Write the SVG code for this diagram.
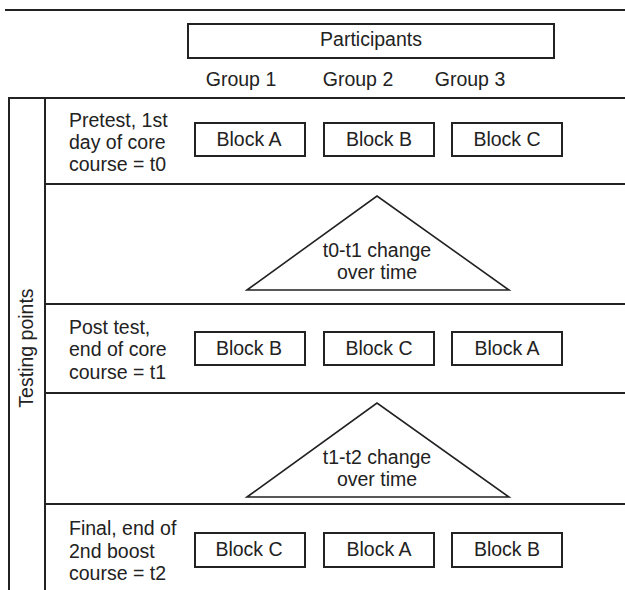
<svg xmlns="http://www.w3.org/2000/svg" width="625" height="590" viewBox="0 0 625 590">
  <style>
    .ln { stroke: #222; stroke-width: 2; fill: none; }
    .box { stroke: #222; stroke-width: 2; fill: #fff; }
    .tri { stroke: #222; stroke-width: 1.6; fill: #fff; stroke-linejoin: miter; }
    text { font-family: "Liberation Sans", Arial, sans-serif; font-size: 19.5px; fill: #222; }
    .c { text-anchor: middle; }
  </style>
  <rect width="625" height="590" fill="#fff"/>

  <!-- table frame -->
  <g id="frame">
    <line class="ln" x1="5" y1="10" x2="625" y2="10"/>
    <line class="ln" x1="8" y1="98" x2="625" y2="98"/>
    <line class="ln" x1="9" y1="98" x2="9" y2="590"/>
    <line class="ln" x1="45" y1="98" x2="45" y2="590"/>
    <line class="ln" x1="45" y1="184" x2="625" y2="184"/>
    <line class="ln" x1="45" y1="304" x2="625" y2="304"/>
    <line class="ln" x1="45" y1="393" x2="625" y2="393"/>
    <line class="ln" x1="45" y1="504" x2="625" y2="504"/>
    <text class="c" transform="translate(33,348) rotate(-90)">Testing points</text>
  </g>

  <!-- header -->
  <g id="participants">
    <rect class="box" x="188" y="24" width="366" height="34"/>
    <text class="c" x="371" y="46">Participants</text>
  </g>
  <g id="groups">
    <text class="c" x="241" y="86">Group 1</text>
    <text class="c" x="358" y="86">Group 2</text>
    <text class="c" x="470" y="86">Group 3</text>
  </g>

  <!-- testing point t0 -->
  <g id="t0">
    <text x="69" y="127">Pretest, 1st</text>
    <text x="69" y="149">day of core</text>
    <text x="69" y="171">course = t0</text>
    <rect class="box" x="195" y="123" width="110" height="33"/>
    <text class="c" x="249" y="146">Block A</text>
    <rect class="box" x="324" y="123" width="110" height="33"/>
    <text class="c" x="379" y="146">Block B</text>
    <rect class="box" x="452" y="123" width="110" height="33"/>
    <text class="c" x="507" y="146">Block C</text>
  </g>

  <!-- change t0-t1 -->
  <g id="change1">
    <polygon class="tri" points="247,290 377,196 509,290"/>
    <text class="c" x="377" y="257">t0-t1 change</text>
    <text class="c" x="377" y="279">over time</text>
  </g>

  <!-- testing point t1 -->
  <g id="t1">
    <text x="69" y="334">Post test,</text>
    <text x="69" y="356">end of core</text>
    <text x="69" y="379">course = t1</text>
    <rect class="box" x="195" y="332" width="110" height="33"/>
    <text class="c" x="249" y="355">Block B</text>
    <rect class="box" x="324" y="332" width="110" height="33"/>
    <text class="c" x="379" y="355">Block C</text>
    <rect class="box" x="452" y="332" width="110" height="33"/>
    <text class="c" x="507" y="355">Block A</text>
  </g>

  <!-- change t1-t2 -->
  <g id="change2">
    <polygon class="tri" points="247,497 377,403 509,497"/>
    <text class="c" x="377" y="464">t1-t2 change</text>
    <text class="c" x="377" y="486">over time</text>
  </g>

  <!-- testing point t2 -->
  <g id="t2">
    <text x="69" y="535">Final, end of</text>
    <text x="69" y="558">2nd boost</text>
    <text x="69" y="580">course = t2</text>
    <rect class="box" x="195" y="533" width="110" height="34"/>
    <text class="c" x="249" y="556">Block C</text>
    <rect class="box" x="324" y="533" width="110" height="34"/>
    <text class="c" x="379" y="556">Block A</text>
    <rect class="box" x="452" y="533" width="110" height="34"/>
    <text class="c" x="507" y="556">Block B</text>
  </g>
</svg>
